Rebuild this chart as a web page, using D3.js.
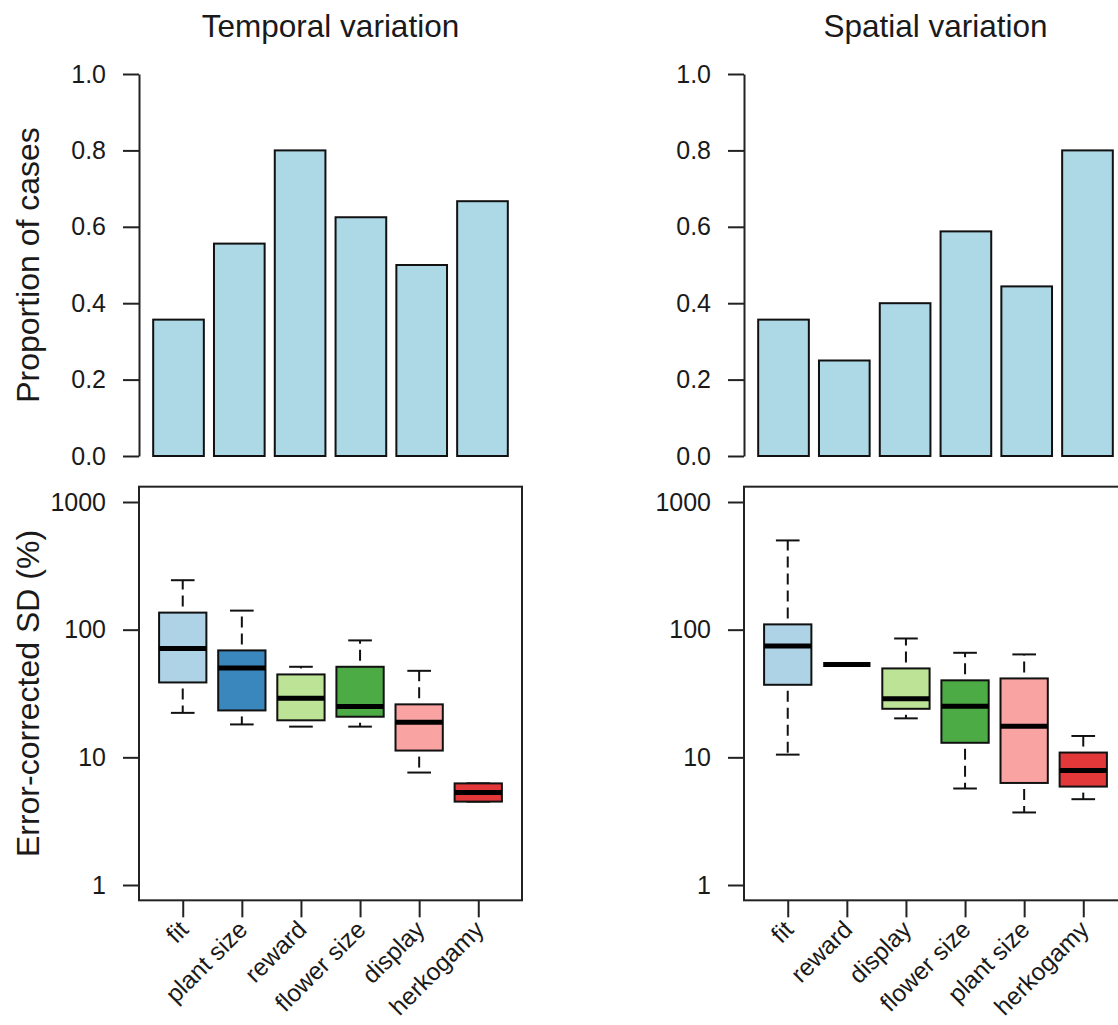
<!DOCTYPE html>
<meta charset="utf-8">
<style>
    body { margin: 0; background: #fff; }
    svg { display: block; font-family: "Liberation Sans", Arial, sans-serif; }
    .axis text { font-size: 25px; fill: #1a1a1a; font-family: "Liberation Sans", Arial, sans-serif; }
    .axis line, .axis path { stroke: #222; stroke-width: 2px; }
    .title { font-size: 31.5px; fill: #1a1a1a; }
    .ylab { font-size: 32px; fill: #1a1a1a; }
    .xlab { font-size: 24.5px; fill: #1a1a1a; }
</style>
<svg width="1118" height="1025"></svg>
<script src="https://d3js.org/d3.v7.min.js"></script>
<script>
    // trait order differs between the two panels
    const tempTraits = ["fit", "plant size", "reward", "flower size", "display", "herkogamy"];
    const spatTraits = ["fit", "reward", "display", "flower size", "plant size", "herkogamy"];

    // proportion of cases (top bar charts)
    const tempProp = [0.357, 0.556, 0.8, 0.625, 0.5, 0.667];
    const spatProp = [0.357, 0.25, 0.4, 0.588, 0.444, 0.8];

    // error-corrected SD (%): [lower whisker, Q1, median, Q3, upper whisker]
    const tempStats = [
        [22.3, 38.6, 71.3, 136, 244],
        [18.1, 23.3, 50, 68.8, 141],
        [17.4, 19.5, 29, 44.6, 51.2],
        [17.4, 20.8, 25, 51.2, 82.4],
        [7.6, 11.3, 18.8, 26, 47.6],
        [4.5, 4.5, 5.3, 6.25, 6.25]
    ];
    const spatStats = [
        [10.5, 37, 74.4, 110, 500],
        [53.4, 53.4, 53.4, 53.4, 53.4],
        [20.2, 24, 28.8, 49.7, 85.3],
        [5.7, 13, 25.1, 40.1, 65.9],
        [3.7, 6.3, 17.5, 41.5, 64],
        [4.7, 5.9, 7.9, 10.9, 14.7]
    ];

    const boxColors = ["#AFD3E6", "#3A87BE", "#BDE397", "#4DAB46", "#F9A4A3", "#E3383A"];
    const barColor = "#ADD8E6";
    const propTicks = [0, 0.2, 0.4, 0.6, 0.8, 1.0];
    const sdTicks = [1, 10, 100, 1000];

    const svg = d3.select("svg");

    const panels = [
        {title: "Temporal variation", left: 139, traits: tempTraits, prop: tempProp, stats: tempStats, ylab: true},
        {title: "Spatial variation", left: 744, traits: spatTraits, prop: spatProp, stats: spatStats, ylab: false}
    ];

    const plotW = 383;
    const yTop = d3.scaleLinear().domain([0, 1]).range([456, 74]);
    const yBot = d3.scaleLog().domain([1, 1000]).range([885, 502]);

    panels.forEach(function(p) {
        let g = svg.append("g");

        // title
        g.append("text")
            .attr("class", "title")
            .attr("x", p.left + plotW / 2)
            .attr("y", 37)
            .attr("text-anchor", "middle")
            .text(p.title);

        // ---- top: barplot ----
        let xBar = d3.scaleLinear().domain([-0.08, 7.48]).range([p.left, p.left + plotW]);

        g.append("g")
            .selectAll("rect")
            .data(p.prop)
            .enter().append("rect")
            .attr("x", (d, i) => xBar(i * 1.2 + 0.2))
            .attr("width", (d, i) => xBar(i * 1.2 + 1.2) - xBar(i * 1.2 + 0.2))
            .attr("y", d => yTop(d))
            .attr("height", d => yTop(0) - yTop(d))
            .attr("fill", barColor)
            .attr("stroke", "#111")
            .attr("stroke-width", 2);

        g.append("g")
            .attr("class", "axis")
            .attr("transform", "translate(" + p.left + ",0)")
            .call(d3.axisLeft(yTop).tickValues(propTicks).tickFormat(d3.format(".1f"))
                .tickSize(16).tickSizeOuter(0).tickPadding(17));

        // ---- bottom: boxplots ----
        let xBox = d3.scaleLinear().domain([0.26, 6.74]).range([p.left, p.left + plotW]);
        let half = xBox(0.4) - xBox(0);
        let stapleHalf = xBox(0.2) - xBox(0);

        g.append("g")
            .attr("class", "axis")
            .attr("transform", "translate(" + p.left + ",0)")
            .call(d3.axisLeft(yBot).tickValues(sdTicks).tickFormat(d3.format("d"))
                .tickSize(16).tickSizeOuter(0).tickPadding(17))
            .call(a => a.select(".domain").remove());

        let boxTop = yBot(Math.pow(10, 3.12)), boxBottom = yBot(Math.pow(10, -0.12));

        g.append("g")
            .attr("class", "axis")
            .attr("transform", "translate(0," + boxBottom + ")")
            .call(d3.axisBottom(xBox).tickValues([1, 2, 3, 4, 5, 6]).tickFormat("")
                .tickSize(17).tickSizeOuter(0))
            .call(a => a.select(".domain").remove());

        g.append("rect")
            .attr("x", p.left)
            .attr("y", boxTop)
            .attr("width", plotW)
            .attr("height", boxBottom - boxTop)
            .attr("fill", "none")
            .attr("stroke", "#222")
            .attr("stroke-width", 2);

        let boxes = g.append("g")
            .selectAll("g")
            .data(p.stats)
            .enter().append("g");

        // whiskers, drawn from hinge outwards
        boxes.selectAll("line.whisk")
            .data((d, i) => [{i: i, from: d[1], to: d[0]}, {i: i, from: d[3], to: d[4]}])
            .enter().append("line")
            .attr("class", "whisk")
            .attr("x1", d => xBox(d.i + 1))
            .attr("x2", d => xBox(d.i + 1))
            .attr("y1", d => yBot(d.from))
            .attr("y2", d => yBot(d.to))
            .attr("stroke", "#111")
            .attr("stroke-width", 2)
            .attr("stroke-dasharray", "11,6")
            .attr("stroke-dashoffset", 11);

        // staples
        boxes.selectAll("line.staple")
            .data((d, i) => [{i: i, v: d[0]}, {i: i, v: d[4]}])
            .enter().append("line")
            .attr("class", "staple")
            .attr("x1", d => xBox(d.i + 1) - stapleHalf)
            .attr("x2", d => xBox(d.i + 1) + stapleHalf)
            .attr("y1", d => yBot(d.v))
            .attr("y2", d => yBot(d.v))
            .attr("stroke", "#111")
            .attr("stroke-width", 2);

        boxes.append("rect")
            .attr("x", (d, i) => xBox(i + 1) - half)
            .attr("width", half * 2)
            .attr("y", d => yBot(d[3]))
            .attr("height", d => yBot(d[1]) - yBot(d[3]))
            .attr("fill", (d, i) => boxColors[i])
            .attr("stroke", "#111")
            .attr("stroke-width", 2);

        boxes.append("line")
            .attr("x1", (d, i) => xBox(i + 1) - half)
            .attr("x2", (d, i) => xBox(i + 1) + half)
            .attr("y1", d => yBot(d[2]))
            .attr("y2", d => yBot(d[2]))
            .attr("stroke", "#000")
            .attr("stroke-width", 5);

        // rotated trait labels
        g.append("g")
            .selectAll("text")
            .data(p.traits)
            .enter().append("text")
            .attr("class", "xlab")
            .attr("text-anchor", "end")
            .attr("dy", "0.35em")
            .attr("transform", (d, i) => "translate(" + (xBox(i + 1) + 1) + ",925) rotate(-45)")
            .text(d => d);

        if (p.ylab) {
            g.append("text")
                .attr("class", "ylab")
                .attr("text-anchor", "middle")
                .attr("transform", "translate(39," + (yTop(0) + yTop(1)) / 2 + ") rotate(-90)")
                .text("Proportion of cases");

            g.append("text")
                .attr("class", "ylab")
                .attr("text-anchor", "middle")
                .attr("transform", "translate(39," + (boxTop + boxBottom) / 2 + ") rotate(-90)")
                .text("Error-corrected SD (%)");
        }
    });
</script>
<body>
</body>
